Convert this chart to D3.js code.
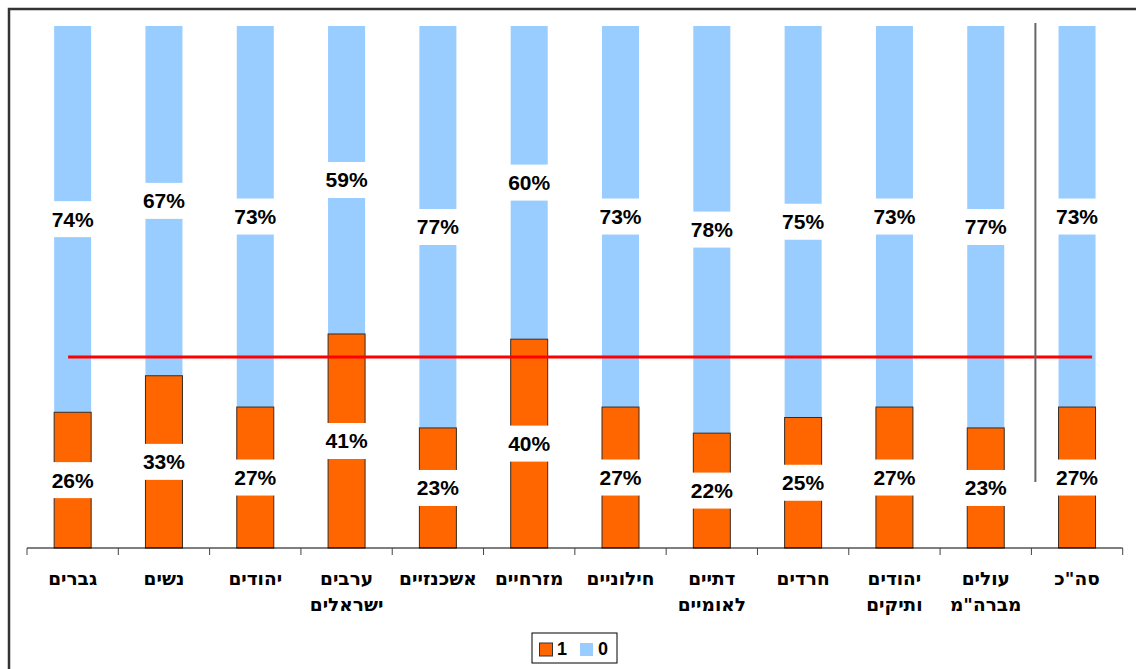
<!DOCTYPE html>
<html>
<head>
<meta charset="utf-8">
<script src="https://cdn.jsdelivr.net/npm/d3@7"></script>
<style>
  html, body { margin: 0; padding: 0; background: #fff; }
  svg { display: block; font-family: Arial, "Liberation Sans", sans-serif; }
</style>
</head>
<body>
<svg id="chart" width="1136" height="669"></svg>
<script>
const categories = [
  ["גברים"], ["נשים"], ["יהודים"], ["ערבים", "ישראלים"], ["אשכנזיים"], ["מזרחיים"],
  ["חילוניים"], ["דתיים", "לאומיים"], ["חרדים"], ["יהודים", "ותיקים"], ["עולים", "מברה\"מ"], ["סה\"כ"]
];
const series1 = [26, 33, 27, 41, 23, 40, 27, 22, 25, 27, 23, 27];
const series0 = [74, 67, 73, 59, 77, 60, 73, 78, 75, 73, 77, 73];
const seriesNames = ["1", "0"];
const refValue = 36.6;

const colors = { s1: "#FF6600", s0: "#99CCFF" };
const svg = d3.select("#chart");

// outer frame
svg.append("rect").attr("x", 9).attr("y", 9).attr("width", 1200).attr("height", 700)
  .attr("fill", "none").attr("stroke", "#333").attr("stroke-width", 2.5);

const ids = categories.map((c, i) => i);
const x = d3.scaleBand().domain(ids).range([27, 1122.7]).padding(0);
const y = d3.scaleLinear().domain([0, 100]).range([548, 26]);
const barW = 37;

const data = ids.map(i => ({ i, v1: series1[i], v0: series0[i] }));

const g = svg.append("g");

// blue (0) segments
g.selectAll("rect.s0").data(data).enter().append("rect")
  .attr("x", d => x(d.i) + x.bandwidth() / 2 - barW / 2)
  .attr("width", barW)
  .attr("y", d => y(d.v1 + d.v0))
  .attr("height", d => y(d.v1) - y(d.v1 + d.v0))
  .attr("fill", colors.s0);

// orange (1) segments
g.selectAll("rect.s1").data(data).enter().append("rect")
  .attr("x", d => x(d.i) + x.bandwidth() / 2 - barW / 2)
  .attr("width", barW)
  .attr("y", d => y(d.v1))
  .attr("height", d => y(0) - y(d.v1))
  .attr("fill", colors.s1)
  .attr("stroke", "#3a2a20").attr("stroke-width", 1);

// axis
const axisG = svg.append("g");
axisG.append("line").attr("x1", x.range()[0]).attr("x2", x.range()[1])
  .attr("y1", y(0)).attr("y2", y(0)).attr("stroke", "#000").attr("stroke-width", 1.2);
const tickPos = ids.map(i => x(i)).concat([x.range()[1]]);
axisG.selectAll("line.tick").data(tickPos).enter().append("line")
  .attr("x1", d => d).attr("x2", d => d)
  .attr("y1", y(0)).attr("y2", y(0) + 7)
  .attr("stroke", "#444").attr("stroke-width", 1);

// category labels
const lab = svg.append("g");
data.forEach(d => {
  const t = lab.append("text")
    .attr("x", x(d.i) + x.bandwidth() / 2)
    .attr("y", 585)
    .attr("text-anchor", "middle")
    .attr("direction", "rtl")
    .attr("font-family", "'DejaVu Sans', sans-serif")
    .attr("font-weight", "bold")
    .attr("font-size", 18.5)
    .attr("fill", "#000");
  categories[d.i].forEach((line, k) => {
    t.append("tspan").attr("x", x(d.i) + x.bandwidth() / 2).attr("dy", k === 0 ? 0 : 26).text(line);
  });
});

// reference red line
const lastId = ids[ids.length - 1];
svg.append("line")
  .attr("x1", x(0) + x.bandwidth() * 0.45)
  .attr("x2", x(lastId) + x.bandwidth() * 0.665)
  .attr("y1", y(refValue)).attr("y2", y(refValue))
  .attr("stroke", "#FF0000").attr("stroke-width", 3);

// separator before total
svg.append("line")
  .attr("x1", x(lastId) + 4).attr("x2", x(lastId) + 4)
  .attr("y1", 23).attr("y2", 482)
  .attr("stroke", "#666").attr("stroke-width", 2);

// value labels
function addLabel(cx, cy, txt) {
  svg.append("rect").attr("x", cx - 23).attr("y", cy - 18).attr("width", 46).attr("height", 36).attr("fill", "#fff");
  svg.append("text").attr("x", cx).attr("y", cy)
    .attr("text-anchor", "middle").attr("dominant-baseline", "central")
    .attr("font-weight", "bold").attr("font-size", 21).attr("fill", "#000")
    .text(txt + "%");
}
data.forEach(d => {
  const cx = x(d.i) + x.bandwidth() / 2;
  addLabel(cx, (y(0) + y(d.v1)) / 2, d.v1);
  addLabel(cx, (y(d.v1) + y(d.v1 + d.v0)) / 2, d.v0);
});

// legend
const lg = svg.append("g");
lg.append("rect").attr("x", 532).attr("y", 633).attr("width", 85).attr("height", 30)
  .attr("fill", "#fff").attr("stroke", "#000").attr("stroke-width", 1);
lg.append("rect").attr("x", 539.5).attr("y", 643).attr("width", 13).attr("height", 13)
  .attr("fill", colors.s1).attr("stroke", "#333").attr("stroke-width", 1);
lg.append("text").attr("x", 557).attr("y", 655).attr("font-weight", "bold").attr("font-size", 18).text(seriesNames[0]);
lg.append("rect").attr("x", 580).attr("y", 643).attr("width", 13).attr("height", 13)
  .attr("fill", colors.s0);
lg.append("text").attr("x", 598).attr("y", 655).attr("font-weight", "bold").attr("font-size", 18).text(seriesNames[1]);
</script>
</body>
</html>
